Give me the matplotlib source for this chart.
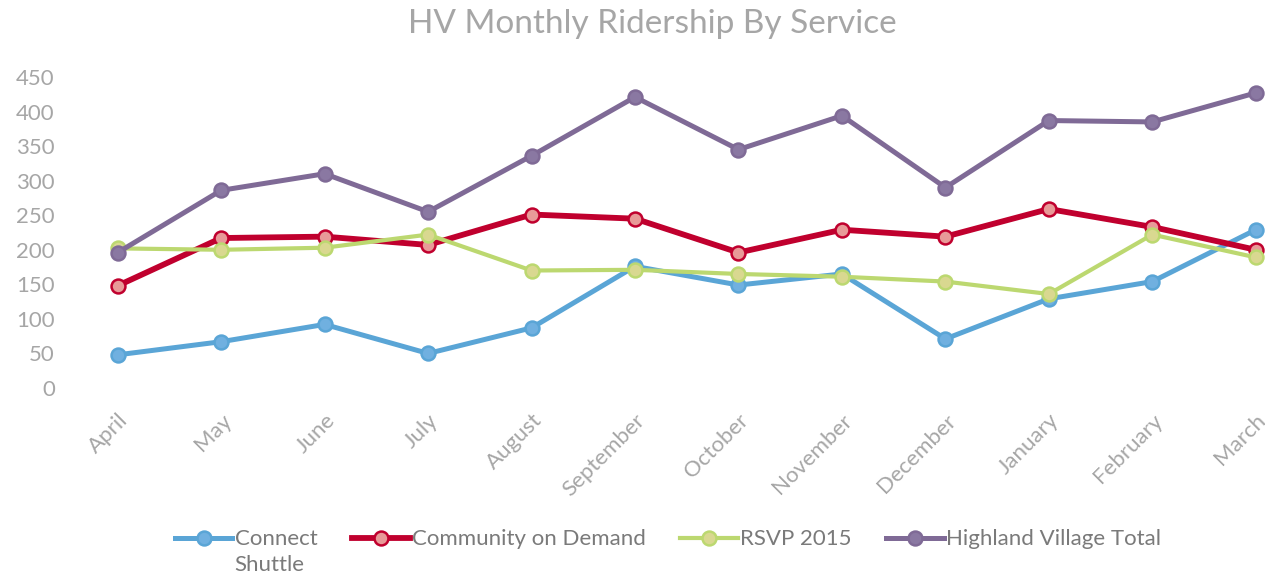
import matplotlib.pyplot as plt

plt.rcParams['font.family'] = ['Lato', 'DejaVu Sans']

months = ['April', 'May', 'June', 'July', 'August', 'September', 'October',
          'November', 'December', 'January', 'February', 'March']

# values
connect_shuttle = [48, 67, 92, 50, 87, 176, 149, 165, 71, 129, 154, 229]
community_on_demand = [148, 217, 219, 207, 251, 245, 196, 229, 219, 259, 233, 200]
rsvp_2015 = [202, 200, 203, 222, 170, 171, 165, 161, 154, 136, 222, 189]
hv_total = [196, 286, 310, 255, 336, 421, 345, 394, 290, 387, 385, 427]

y_ticks = [0, 50, 100, 150, 200, 250, 300, 350, 400, 450]

fig = plt.figure(figsize=(12.65, 5.8), dpi=100)
ax = fig.add_axes([66 / 1265, 1 - 388 / 580, (1262 - 66) / 1265, (388 - 77) / 580])

x = list(range(len(months)))
series = [
    # label, data, line colour, marker fill, marker edge, line width
    ('Connect', connect_shuttle, '#5aa5d6', '#70b0e0', '#5aa5d6', 3.6),
    ('Community on Demand', community_on_demand, '#c0002e', '#e89a98', '#c0002e', 4.2),
    ('RSVP 2015', rsvp_2015, '#bcd870', '#d9d890', '#bcd870', 3.0),
    ('Highland Village Total', hv_total, '#7f6a96', '#8a78a2', '#7f6a96', 3.6),
]

for label, vals, lc, mfc, mec, lw in series:
    ax.plot(x, vals, color=lc, lw=lw, marker='o', markersize=10,
            markerfacecolor=mfc, markeredgecolor=mec, markeredgewidth=1.8,
            label=label, clip_on=False, zorder=3)

ax.set_xlim(-0.5, 11.06)
ax.set_ylim(0, 450)
ax.set_yticks(y_ticks)
ax.set_xticks(x)
ax.set_xticklabels(months, rotation=45, ha='right', rotation_mode='anchor')
ax.tick_params(axis='both', length=0, labelsize=16, labelcolor='#a6a6a6')
ax.tick_params(axis='x', pad=16)
ax.tick_params(axis='y', pad=8)
for s in ax.spines.values():
    s.set_visible(False)

fig.suptitle('HV Monthly Ridership By Service', x=0.516, y=0.985,
             fontsize=24, color='#a6a6a6')

leg = fig.legend(loc='center', bbox_to_anchor=(0.528, 0.07), ncol=4, frameon=False,
                 fontsize=16, labelcolor='#7a7a7a', handlelength=2.6,
                 handletextpad=0.1, columnspacing=1.55)

# second line of the wrapped "Connect Shuttle" legend label
fig.canvas.draw()
bb = leg.get_texts()[0].get_window_extent()
fig.text(bb.x0 / 1265, (bb.y0 - 6) / 580, 'Shuttle', fontsize=16,
         color='#7a7a7a', ha='left', va='top')

fig.savefig('out.png', dpi=100)
